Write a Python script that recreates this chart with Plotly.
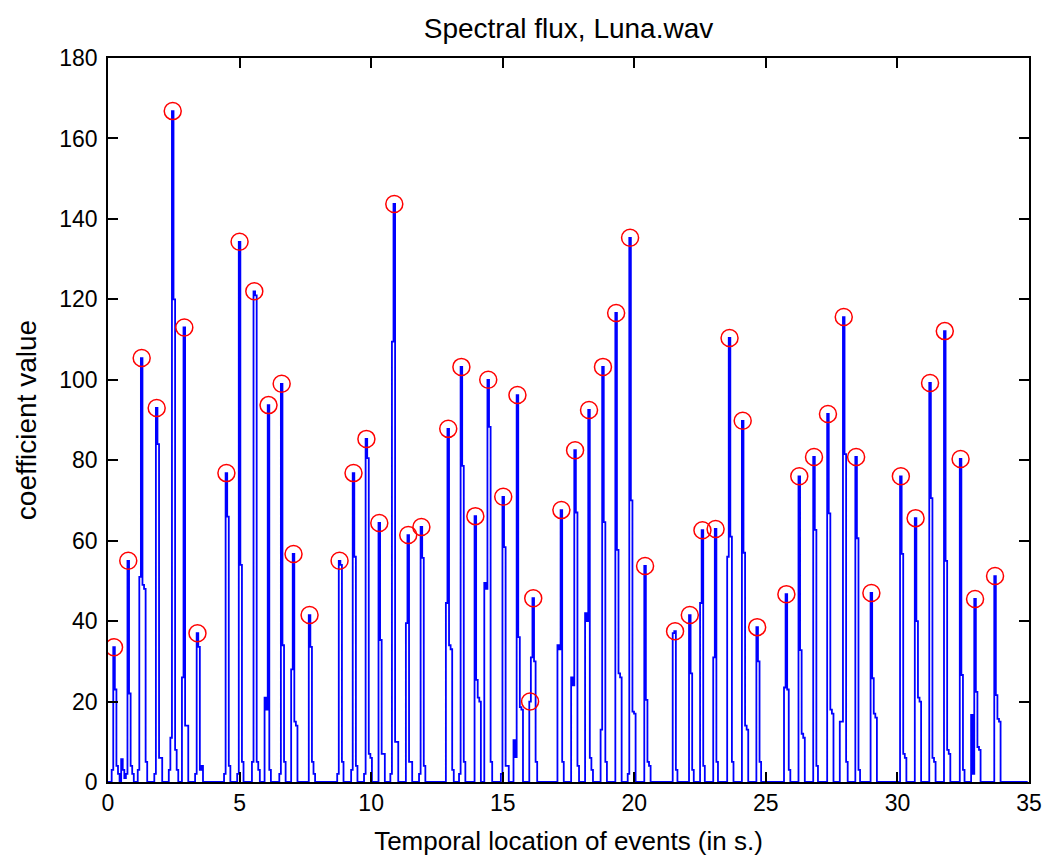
import plotly.graph_objects as go

# ---- data ----
hop = 0.06  # frame hop of the spectral-flux curve, s

# time of the local maximum of each burst of the flux curve (s)
seg_t = [0.20, 0.74, 1.25, 1.82, 2.43, 2.87, 3.37, 4.47, 4.97, 5.53,
         6.07, 6.57, 7.02, 7.63, 8.77, 9.30, 9.79, 10.28, 10.85, 11.38,
         11.88, 12.90, 13.40, 13.93, 14.42, 14.99, 15.53, 16.13, 17.20, 17.72,
         18.25, 18.78, 19.28, 19.81, 20.38, 21.52, 22.08, 22.56, 23.06, 23.59,
         24.09, 24.64, 25.75, 26.24, 26.80, 27.33, 27.93, 28.40, 28.98, 30.10,
         30.66, 31.21, 31.77, 32.37, 32.92, 33.68]

# flux samples of each burst (consecutive frames)
seg_v = [
    [0, 3, 33.5, 23, 4, 2, 0],
    [0, 5.7, 3, 1, 2, 55, 22, 4, 2, 0],
    [0, 3, 51, 105.4, 49, 48, 5, 0],
    [0, 2, 93, 84, 6, 6, 0],
    [0, 3, 11, 166.8, 120, 8, 3, 0],
    [0, 26, 113, 14, 14, 0],
    [0, 2, 37, 33.6, 3, 4, 0],
    [0, 2, 76.8, 66, 4, 0],
    [0, 2, 134.3, 54, 5, 0],
    [0, 5, 122, 121, 5, 3, 0],
    [0, 21, 18, 93.7, 3, 0],
    [0, 2, 99, 34, 5, 0],
    [0, 28, 56.7, 15, 14, 0],
    [0, 41.5, 33.6, 5, 2, 0],
    [0, 2, 55, 54, 5, 0],
    [0, 3, 76.8, 56, 4, 0],
    [0, 2, 85.3, 80.5, 7, 6, 0],
    [0, 64.4, 35.3, 7, 7, 0],
    [0, 2, 109.5, 143.7, 10, 10, 0],
    [0, 39.5, 61.4, 5, 5, 0],
    [0, 2, 63.4, 55.7, 4, 0],
    [0, 44.5, 87.8, 34, 33, 3, 0],
    [0, 2, 103.2, 78.6, 5, 0],
    [0, 66.1, 25.4, 21, 20, 0],
    [0, 49.5, 48, 100, 88.3, 5, 0],
    [0, 2, 70.9, 58.4, 4, 4, 0],
    [0, 10.4, 6.2, 96.2, 36, 18.6, 18, 0],
    [0, 20, 31, 45.7, 30, 5, 0],
    [0, 34, 33, 67.6, 5, 0],
    [0, 26, 24, 82.5, 67, 4, 0],
    [0, 42, 40, 92.5, 6, 3, 0],
    [0, 13, 103.2, 64.6, 5, 0],
    [0, 116.6, 57.7, 27, 26, 0],
    [0, 2, 135.3, 70, 17.5, 17, 0],
    [0, 53.7, 20.4, 5, 4, 0],
    [0, 37, 37.5, 3, 0],
    [0, 41.5, 27, 3, 0],
    [0, 44.5, 62.6, 4, 0],
    [0, 31, 62.9, 5, 0],
    [0, 56, 110.4, 61, 5, 0],
    [0, 89.8, 57, 14, 13, 0],
    [0, 38.5, 30, 5, 0],
    [0, 23.5, 46.7, 23, 3, 0],
    [0, 76, 32.8, 12, 11, 0],
    [0, 80.8, 62.7, 4, 0],
    [0, 91.5, 66.8, 18, 17, 0],
    [0, 15, 15, 115.6, 81.5, 5, 0],
    [0, 80.8, 60.6, 3, 0],
    [0, 47, 25.8, 17, 16, 0],
    [0, 76, 56.7, 7, 6, 0],
    [0, 65.6, 40, 21, 20, 0],
    [0, 99.2, 70.6, 6, 5, 0],
    [0, 112.1, 55, 8, 7, 0],
    [0, 80.3, 26.6, 3, 0],
    [0, 16.7, 2, 45.5, 22.4, 8.7, 8, 0],
    [0, 51.2, 21.6, 15.7, 15, 0],
]

# start and end of the analysed signal (s) and the flux there
signal_start, signal_end = 0.0, 34.95
edge_value = 0

# detected events (red circles)
event_t = [0.20, 0.74, 1.25, 1.82, 2.43, 2.87, 3.37, 4.47, 4.97, 5.53,
           6.07, 6.57, 7.02, 7.63, 8.77, 9.30, 9.79, 10.28, 10.85, 11.38,
           11.88, 12.90, 13.40, 13.93, 14.42, 14.99, 15.53, 16.13, 16.01, 17.20,
           17.72, 18.25, 18.78, 19.28, 19.81, 20.38, 21.52, 22.08, 22.56, 23.06,
           23.59, 24.09, 24.64, 25.75, 26.24, 26.80, 27.33, 27.93, 28.40, 28.98,
           30.10, 30.66, 31.21, 31.77, 32.37, 32.92, 33.68]
event_v = [33.5, 55, 105.4, 93, 166.8, 113, 37, 76.8, 134.3, 122,
           93.7, 99, 56.7, 41.5, 55, 76.8, 85.3, 64.4, 143.7, 61.4,
           63.4, 87.8, 103.2, 66.1, 100, 70.9, 96.2, 45.7, 20, 67.6,
           82.5, 92.5, 103.2, 116.6, 135.3, 53.7, 37.5, 41.5, 62.6, 62.9,
           110.4, 89.8, 38.5, 46.7, 76, 80.8, 91.5, 115.6, 80.8, 47,
           76, 65.6, 99.2, 112.1, 80.3, 45.5, 51.2]

x_ticks = [0, 5, 10, 15, 20, 25, 30, 35]
y_ticks = [0, 20, 40, 60, 80, 100, 120, 140, 160, 180]

title_text = "Spectral flux, Luna.wav"
x_label = "Temporal location of events (in s.)"
y_label = "coefficient value"

# ---- build the flux curve from the bursts ----
flux_t = [signal_start]
flux_v = [edge_value]
for t0, vals in zip(seg_t, seg_v):
    k0 = vals.index(max(vals))
    for k, v in enumerate(vals):
        flux_t.append(t0 + (k - k0) * hop)
        flux_v.append(v)
flux_t.append(signal_end)
flux_v.append(edge_value)

FONT = "Liberation Sans, Arial, sans-serif"

fig = go.Figure()
fig.add_trace(go.Scatter(
    x=flux_t, y=flux_v, mode="lines",
    line=dict(color="rgb(0,0,255)", width=1.8, shape="hv"),
    hoverinfo="skip", showlegend=False))
fig.add_trace(go.Scatter(
    x=[t + hop / 2 for t in event_t], y=event_v, mode="markers",
    marker=dict(symbol="circle-open", size=17, color="rgb(255,0,0)",
                line=dict(width=1.5, color="rgb(255,0,0)")),
    showlegend=False))

axis_common = dict(
    showline=True, linecolor="black", linewidth=1.5, mirror="ticks",
    ticks="inside", ticklen=10, tickwidth=1.5, tickcolor="black",
    showgrid=False, zeroline=False, automargin=False,
    tickfont=dict(family=FONT, size=23, color="black"),
)

fig.update_layout(
    width=1046, height=861,
    margin=dict(l=108, r=17, t=58, b=79),
    paper_bgcolor="white", plot_bgcolor="white",
    font=dict(family=FONT, color="black"),
    title=dict(text=title_text, x=0.5, xref="paper", y=1 - 28 / 861,
               yref="container", yanchor="middle", xanchor="center",
               font=dict(family=FONT, size=28, color="black")),
    xaxis=dict(range=[0, 35], tickvals=x_ticks, ticktext=[str(v) for v in x_ticks],
               title=dict(text=x_label, standoff=16,
                          font=dict(family=FONT, size=26, color="black")),
               **axis_common),
    yaxis=dict(range=[0, 180], tickvals=y_ticks, ticktext=[str(v) for v in y_ticks],
               ticklabelstandoff=4,
               title=dict(text=y_label, standoff=14,
                          font=dict(family=FONT, size=28, color="black")),
               **axis_common),
)

fig.write_html("out.html")
